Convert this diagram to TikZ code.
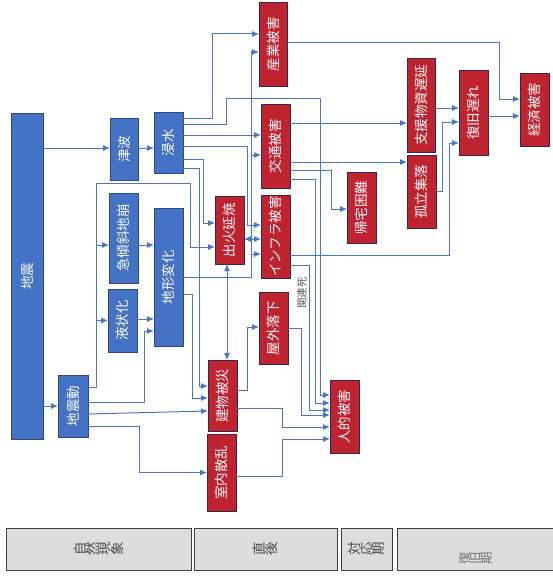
\documentclass[tikz,border=0pt]{standalone}
\usepackage{fontspec}
\setmainfont{Noto Sans CJK JP}
\usetikzlibrary{arrows.meta}
\definecolor{natblue}{RGB}{68,114,196}
\definecolor{natedge}{RGB}{47,72,130}
\definecolor{dmgred}{RGB}{192,35,48}
\definecolor{dmgedge}{RGB}{55,40,70}
\definecolor{phasegray}{RGB}{220,221,223}
\definecolor{linkblue}{RGB}{72,118,200}
\def\vt#1{\rotatebox{90}{#1}}
% each character turned on its own, set left to right
\def\rc#1{\ifx#1\relax\else\rotatebox{90}{#1}\expandafter\rc\fi}
\tikzset{
  natbox/.style={draw=natedge,fill=natblue,text=white,line width=0.8pt,inner sep=0pt,outer sep=0pt,minimum width=29pt},
  dmgbox/.style={draw=dmgedge,fill=dmgred,text=white,line width=0.8pt,inner sep=0pt,outer sep=0pt,minimum width=29pt},
  phasebox/.style={draw=black!75,fill=phasegray,text=black!70,line width=0.8pt,inner sep=0pt,outer sep=0pt,minimum height=42pt},
  flow/.style={->,draw=linkblue,line width=1pt},
}

\begin{document}
\begin{tikzpicture}[x=1pt,y=-1pt,>={Latex[length=7pt,width=6pt]},font=\fontsize{13.5}{15}\selectfont]
	\useasboundingbox [fill=white] (0,0) rectangle (553,578);
	% natural phenomena
	\node [natbox,minimum width=32pt,minimum height=326pt] at (27,276) (jishin) {\vt{地震}};
	\node [natbox,minimum width=28pt,minimum height=62pt] at (124,149) (tsunami) {\vt{津波}};
	\node [natbox,minimum height=61pt] at (168.5,142.5) (shinsui) {\vt{浸水}};
	\node [natbox,minimum height=90pt] at (123.5,238) (kyukeisha) {\vt{急傾斜地崩}};
	\node [natbox,minimum height=63pt] at (122.5,320.5) (ekijoka) {\vt{液状化}};
	\node [natbox,minimum height=138pt] at (168.5,277) (chikei) {\vt{地形変化}};
	\node [natbox,minimum width=30pt,minimum height=62pt] at (73,406) (jishindo) {\vt{地震動}};
	% damage
	\node [dmgbox,minimum width=28pt,minimum height=84pt] at (273,44) (sangyo) {\vt{産業被害}};
	\node [dmgbox,minimum height=84pt] at (275.5,146) (kotsu) {\vt{交通被害}};
	\node [dmgbox,minimum height=83pt] at (275.5,236.5) (infra) {\vt{インフラ被害}};
	\node [dmgbox,minimum height=68pt] at (229.5,230) (shukka) {\vt{出火延焼}};
	\node [dmgbox,minimum height=72pt] at (273.5,328) (okugai) {\vt{屋外落下}};
	\node [dmgbox,minimum height=71pt] at (222.5,395.5) (tatemono) {\vt{建物被災}};
	\node [dmgbox,minimum height=77pt] at (221.5,472.5) (shitsunai) {\vt{室内散乱}};
	\node [dmgbox,minimum height=73pt] at (344.5,416.5) (jinteki) {\vt{人的被害}};
	\node [dmgbox,minimum height=71pt] at (361.5,207.5) (kitaku) {\vt{帰宅困難}};
	\node [dmgbox,minimum width=28pt,minimum height=94pt] at (421,105) (shien) {\vt{支援物資遅延}};
	\node [dmgbox,minimum height=73pt] at (421.5,191.5) (koritsu) {\vt{孤立集落}};
	\node [dmgbox,minimum height=85pt] at (473.5,112.5) (fukkyu) {\vt{復旧遅れ}};
	\node [dmgbox,minimum height=73pt] at (534.5,109.5) (keizai) {\vt{経済被害}};
	% phases
	\node [phasebox,minimum width=185pt] at (98.5,549) (natural) {\rc 自然現象\relax};
	\node [phasebox,minimum width=143pt] at (265.5,549) (justafter) {\rc 直後\relax};
	\node [phasebox,minimum width=51pt] at (366.5,549) (response) {\rc 対応期\relax};
	\node [phasebox,minimum width=163pt] at (478.5,549) (recovery) {};
	\node [text=black!55,font=\fontsize{12.5}{14}\selectfont] at ([yshift=-9pt,xshift=-2.5pt]recovery.center) (recoverytxt) {\rc 復旧期\relax};

	\draw[flow] ([yshift=128pt]jishin.east) -- ([yshift=1pt]tsunami.west);
	\draw[flow] ([yshift=1pt]tsunami.east) -- ([yshift=-5.5pt]shinsui.west);
	\draw[flow] ([yshift=-130pt]jishin.east) -- (jishindo.west);

	% ground motion
	\coordinate (jdtrunk) at (96,0);
	\coordinate (kyuin) at ([yshift=-7pt]kyukeisha.west);
	\draw[flow] ([yshift=19pt]jishindo.east) -| (96,183) -| (190,247) -- ([yshift=-17pt]shukka.west);
	\draw[flow] (kyuin -| jdtrunk) -- (kyuin);
	\draw[flow] (ekijoka.west -| jdtrunk) -- (ekijoka.west);
	\draw[flow] ([yshift=-7pt]kyukeisha.east) -- ([yshift=32pt]chikei.west);
	\draw[flow] ([yshift=1.5pt]ekijoka.east) -- ([yshift=-42pt]chikei.west);
	\draw[flow] ([yshift=4pt]jishindo.east) -| (144,331) -- ([yshift=-54pt]chikei.west);
	\draw[flow] ([yshift=-8pt]jishindo.east) -- ([yshift=-15.5pt]tatemono.west);
	\draw[flow] ([yshift=-20pt]jishindo.east) -| (139,472.5) -- (shitsunai.west);

	% land change
	\coordinate (cktrunk) at (251,0);
	\coordinate (kotsuin) at ([yshift=-9pt]kotsu.west);
	\coordinate (infrain) at ([yshift=-17.5pt]infra.west);
	\draw[flow] ([yshift=-17pt]chikei.east) -| (192,398) -- ([yshift=-2.5pt]tatemono.west);
	\draw[flow] (chikei.east) -| (251,52) -- ([yshift=-8pt]sangyo.west);
	\draw[flow] (kotsuin -| cktrunk) -- (kotsuin);
	\draw[flow] (infrain -| cktrunk) -- (infrain);

	% flooding
	\draw[flow] ([yshift=24.5pt]shinsui.east) -| (212,34) -- ([yshift=10pt]sangyo.west);
	\draw[flow] ([yshift=18.5pt]shinsui.east) -| (226,98) -| (320,395) -- ([yshift=21.5pt]jinteki.west);
	\draw[flow] ([yshift=7.5pt]shinsui.east) -- ([yshift=11pt]kotsu.west);
	\draw[flow] ([yshift=-3.5pt]shinsui.east) -| (247,225) -- ([yshift=11.5pt]infra.west);
	\draw[flow] ([yshift=-16.5pt]shinsui.east) -| (203,223) -- ([yshift=7pt]shukka.west);
	\draw[flow] ([yshift=-25.5pt]shinsui.east) -| (199,386) -- ([yshift=9.5pt]tatemono.west);

	% fire
	\draw[flow,<->] ([yshift=-9pt]shukka.east) -- ([yshift=-2.5pt]infra.west);
	\draw[flow,<->] ([xshift=-2.5pt]shukka.south) -- ([xshift=4.5pt]tatemono.north);

	% traffic
	\draw[flow] ([yshift=23pt]kotsu.east) -- ([yshift=-18pt]shien.west);
	\draw[flow] ([yshift=-16pt]kotsu.east) -- ([yshift=29.5pt]koritsu.west);
	\draw[flow] ([yshift=-24pt]kotsu.east) -| (331,209) -- ([yshift=-1.5pt]kitaku.west);
	\draw[flow] ([yshift=-33pt]kotsu.east) -| (315,403) -- ([yshift=13.5pt]jinteki.west);

	% infrastructure
	\draw[flow] ([yshift=-18.5pt]infra.east) -| (449,143) -- ([yshift=-30.5pt]fukkyu.west);
	\draw[flow] ([yshift=-28.5pt]infra.east) -| (309,410) -- ([yshift=6.5pt]jinteki.west);
	\node [font=\fontsize{10.5}{12}\selectfont,text=black!65] at (302,293) (kanren) {\vt{関連死}};

	% buildings
	\draw[flow] ([yshift=5.5pt]tatemono.east) -| (247,327) -- ([yshift=1pt]okugai.west);
	\draw[flow] ([yshift=-12.5pt]tatemono.east) -| (282,427) -- ([yshift=-10.5pt]jinteki.west);
	\draw[flow] ([yshift=-3.5pt]shitsunai.east) -| (282,439) -- ([yshift=-22.5pt]jinteki.west);
	\draw[flow] (okugai.east) -| (301,415) -- ([yshift=1.5pt]jinteki.west);

	% recovery
	\draw[flow] ([yshift=-3pt]shien.east) -- ([yshift=4.5pt]fukkyu.west);
	\draw[flow] (koritsu.east) -| (442,122) -- ([yshift=-9.5pt]fukkyu.west);
	\draw[flow] ([yshift=1pt]sangyo.east) -| (499,99) -- ([yshift=10.5pt]keizai.west);
	\draw[flow] ([yshift=-3.5pt]fukkyu.east) -- ([yshift=-6.5pt]keizai.west);
\end{tikzpicture}
\end{document}
